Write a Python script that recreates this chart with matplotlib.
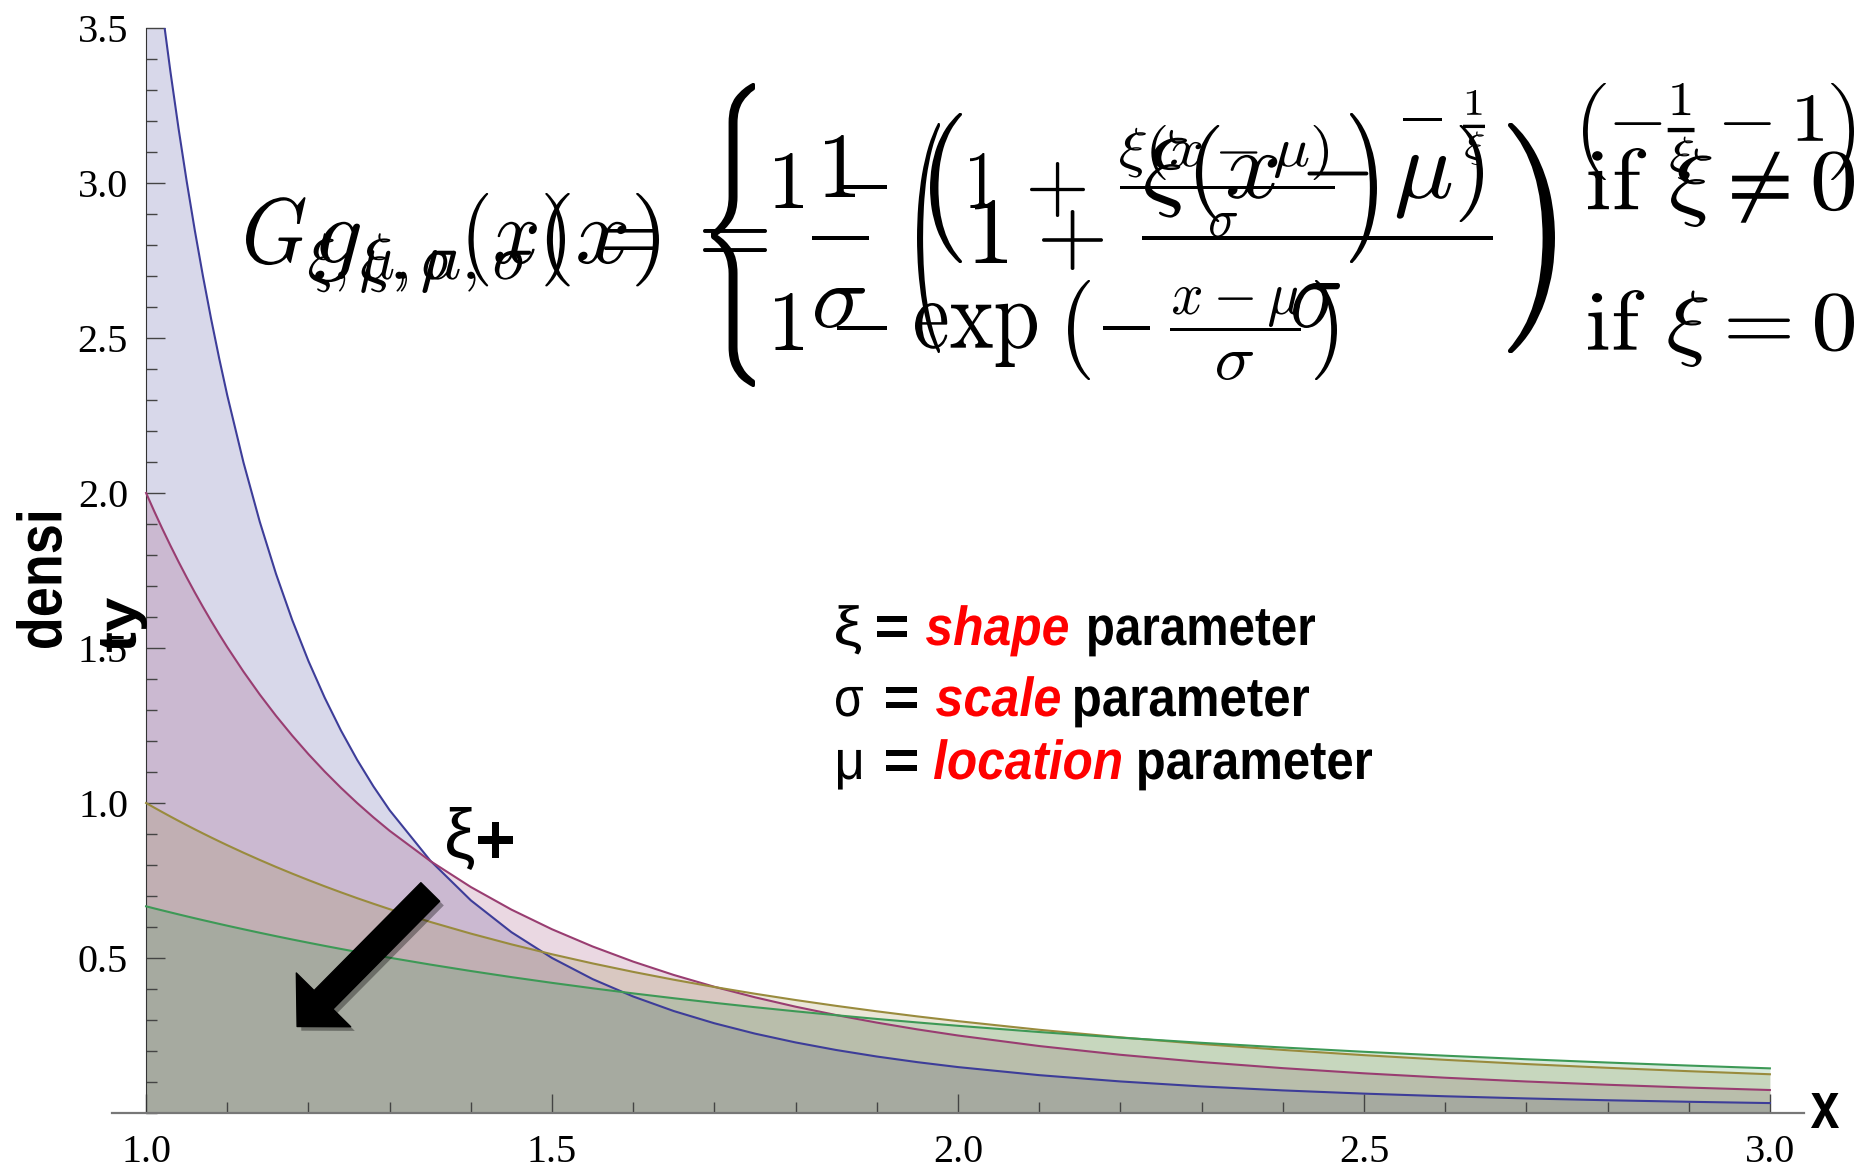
import matplotlib
matplotlib.use("Agg")
import matplotlib.pyplot as plt
import matplotlib.patheffects as pe
from matplotlib.ticker import FixedLocator, MultipleLocator, FormatStrFormatter
from matplotlib.textpath import TextPath
from matplotlib.font_manager import FontProperties
from matplotlib.patches import PathPatch, FancyArrowPatch, ArrowStyle, Rectangle
from matplotlib.transforms import Affine2D

plt.rcParams['font.family'] = ['Liberation Serif', 'DejaVu Serif']
plt.rcParams['mathtext.fontset'] = 'cm'

W, H = 1875, 1172

# values (generalized Pareto densities, four scales)
x = [1.00, 1.01, 1.02, 1.03, 1.04, 1.05, 1.06, 1.07, 1.08, 1.09, 1.10,
     1.12, 1.14, 1.16, 1.18, 1.20, 1.22, 1.24, 1.26, 1.28, 1.30,
     1.35, 1.40, 1.45, 1.50, 1.55, 1.60, 1.65, 1.70, 1.75, 1.80, 1.85, 1.90, 1.95, 2.00,
     2.10, 2.20, 2.30, 2.40, 2.50, 2.60, 2.70, 2.80, 2.90, 3.00]
dens_blue = [4.0000, 3.7693, 3.5560, 3.3585, 3.1753, 3.0053, 2.8471, 2.6999, 2.5626, 2.4345, 2.3148,
             2.0980, 1.9073, 1.7392, 1.5902, 1.4577, 1.3396, 1.2339, 1.1390, 1.0536, 0.9766,
             0.8142, 0.6859, 0.5832, 0.5000, 0.4319, 0.3757, 0.3288, 0.2894, 0.2560, 0.2276, 0.2032, 0.1822, 0.1640, 0.1481,
             0.1221, 0.1018, 0.0857, 0.0729, 0.0625, 0.0540, 0.0470, 0.0411, 0.0362, 0.0320]
dens_magenta = [2.0000, 1.9412, 1.8846, 1.8303, 1.7780, 1.7277, 1.6792, 1.6326, 1.5877, 1.5444, 1.5026,
                1.4236, 1.3499, 1.2813, 1.2173, 1.1574, 1.1014, 1.0490, 0.9998, 0.9537, 0.9103,
                0.8129, 0.7289, 0.6560, 0.5926, 0.5371, 0.4883, 0.4452, 0.4071, 0.3732, 0.3429, 0.3159, 0.2916, 0.2697, 0.2500,
                0.2160, 0.1878, 0.1644, 0.1447, 0.1280, 0.1138, 0.1016, 0.0911, 0.0820, 0.0741]
dens_olive = [1.0000, 0.9851, 0.9706, 0.9563, 0.9423, 0.9286, 0.9151, 0.9019, 0.8890, 0.8763, 0.8638,
              0.8396, 0.8163, 0.7938, 0.7722, 0.7513, 0.7312, 0.7118, 0.6930, 0.6750, 0.6575,
              0.6164, 0.5787, 0.5440, 0.5120, 0.4825, 0.4552, 0.4299, 0.4064, 0.3847, 0.3644, 0.3456, 0.3280, 0.3116, 0.2963,
              0.2685, 0.2441, 0.2226, 0.2035, 0.1866, 0.1715, 0.1579, 0.1458, 0.1349, 0.1250]
dens_green = [0.6667, 0.6600, 0.6535, 0.6471, 0.6407, 0.6344, 0.6282, 0.6221, 0.6161, 0.6101, 0.6042,
              0.5927, 0.5814, 0.5704, 0.5597, 0.5493, 0.5391, 0.5292, 0.5195, 0.5101, 0.5009,
              0.4788, 0.4580, 0.4383, 0.4198, 0.4023, 0.3858, 0.3702, 0.3554, 0.3413, 0.3280, 0.3154, 0.3034, 0.2921, 0.2813,
              0.2612, 0.2430, 0.2264, 0.2113, 0.1975, 0.1849, 0.1734, 0.1628, 0.1530, 0.1440]

x_major = [1.0, 1.5, 2.0, 2.5, 3.0]
y_major = [0.5, 1.0, 1.5, 2.0, 2.5, 3.0, 3.5]

series = [(dens_blue, (0.24, 0.24, 0.6)),
          (dens_magenta, (0.6, 0.24, 0.4428)),
          (dens_olive, (0.6, 0.547, 0.24)),
          (dens_green, (0.24, 0.6, 0.337))]

fig = plt.figure(figsize=(W / 100, H / 100), dpi=100)
ax = fig.add_axes([112 / W, 59 / H, 1692 / W, 1085 / H])

for ys, c in series:
    ax.fill_between(x, 0, ys, color=c, alpha=0.2, lw=0, zorder=1)
for ys, c in series:
    ax.plot(x, ys, color=c, lw=1.5, zorder=3)

ax.set_xlim(1 - 0.042, 3 + 0.042)
ax.set_ylim(0, 3.5)
ax.spines['left'].set_position(('data', 1.0))
ax.spines['right'].set_visible(False)
ax.spines['top'].set_visible(False)
ax.spines['left'].set_color('#333333')
ax.spines['bottom'].set_color('#777777')
ax.spines['bottom'].set_linewidth(1.6)

ax.xaxis.set_major_locator(FixedLocator(x_major))
ax.xaxis.set_minor_locator(MultipleLocator(0.1))
ax.yaxis.set_major_locator(FixedLocator(y_major))
ax.yaxis.set_minor_locator(MultipleLocator(0.1))
ax.xaxis.set_major_formatter(FormatStrFormatter('%.1f'))
ax.yaxis.set_major_formatter(FormatStrFormatter('%.1f'))
ax.tick_params(which='both', direction='in', color='#444444', width=1.0, labelsize=29)
ax.tick_params(which='major', length=13.7)
ax.tick_params(which='minor', length=7.9)
ax.tick_params(axis='y', pad=13)
ax.tick_params(axis='x', pad=15)

# the black arrow with its shadow
arrow = FancyArrowPatch((1.350, 0.713), (1.186, 0.279),
                        arrowstyle=ArrowStyle.Simple(head_length=27, head_width=55, tail_width=19),
                        mutation_scale=1, shrinkA=0, shrinkB=0, color='black', zorder=5,
                        path_effects=[pe.SimplePatchShadow(offset=(3, -3), shadow_rgbFace='black', alpha=0.35),
                                      pe.Normal()])
ax.add_patch(arrow)


def text_path(s, family, weight, style):
    prop = FontProperties(family=family, weight=weight, style=style)
    return TextPath((0, 0), s, size=100, prop=prop)


def fit(s, box, color='black', family='Liberation Sans', weight='bold', style='normal', rot=0):
    # box = left, top, right, bottom in picture pixels (origin top-left)
    p = text_path(s, family, weight, style)
    if rot:
        p = Affine2D().rotate_deg(rot).transform_path(p)
    e = p.get_extents()
    l, t, r, b = box
    tr = (Affine2D().translate(-e.x0, -e.y0)
          .scale((r - l) / e.width, (b - t) / e.height)
          .translate(l, H - b).scale(1 / W, 1 / H))
    fig.add_artist(PathPatch(tr.transform_path(p), fc=color, ec='none', lw=0,
                             transform=fig.transFigure))


def word(s, left, right, base, em, color='black', weight='bold', style='normal'):
    p = text_path(s, 'Liberation Sans', weight, style)
    e = p.get_extents()
    tr = (Affine2D().translate(-e.x0, 0)
          .scale((right - left) / e.width, em / 100)
          .translate(left, H - base).scale(1 / W, 1 / H))
    fig.add_artist(PathPatch(tr.transform_path(p), fc=color, ec='none', lw=0,
                             transform=fig.transFigure))


def bar(left, right, y, t=3.5):
    fig.add_artist(Rectangle((left / W, (H - y - t / 2) / H), (right - left) / W, t / H,
                             fc='black', ec='none', transform=fig.transFigure))


# axis labels, drawn the broken way they appear
fit('densi', (16, 513, 62, 648), rot=90)
fit('ty', (100, 598, 147, 652), rot=90)
fit('x', (1811, 1093, 1839, 1128))

# xi+ beside the arrow
fit('\u03be', (447, 807, 474, 870), weight='normal')
fit('+', (478, 822, 513, 858))

# parameter legend
red = '#ff0000'
em = 55
for sym, name, base, boxes in [
        ('\u03be', 'shape', 645, [(836, 861), (877, 907), (926, 1068), (1089, 1315)]),
        ('\u03c3', 'scale', 716, [(836, 863), (886, 917), (936, 1060), (1075, 1309)]),
        ('\u03bc', 'location', 779, [(838, 861), (886, 917), (934, 1121), (1139, 1372)])]:
    word(sym, *boxes[0], base, em, weight='normal')
    word('=', *boxes[1], base, em)
    word(name, *boxes[2], base, em, color=red, style='italic')
    word('parameter', *boxes[3], base, em)

cm = dict(family='DejaVu Serif', weight='normal')

# the two overlapping formulas: the CDF G ...
fit(r'$G_{\xi,\mu,\sigma}(x)$', (246, 193, 565, 293), **cm)
fit(r'$=$', (604, 229, 654, 250), **cm)
fit(r'$\{$', (711, 83, 755, 387), **cm)
# first case
fit(r'$1$', (775, 153, 803, 208), **cm)
bar(837, 887, 187)
fit(r'$($', (930, 113, 962, 263), **cm)
fit(r'$1$', (970, 153, 993, 208), **cm)
fit(r'$+$', (1030, 162, 1085, 217), **cm)
fit(r'$\xi(x-\mu)$', (1120, 125, 1328, 180), **cm)
bar(1120, 1335, 187, 3)
fit(r'$\sigma$', (1210, 213, 1237, 237), **cm)
fit(r'$)$', (1350, 113, 1377, 263), **cm)
bar(1403, 1442, 119, 3)
fit(r'$\frac{1}{\xi}$', (1463, 90, 1485, 165), **cm)
fit(r'$\mathrm{if}\ \xi\neq0$', (1588, 148, 1854, 227), **cm)
# second case
fit(r'$1$', (775, 293, 803, 350), **cm)
bar(837, 887, 328)
fit(r'$\exp$', (915, 303, 1037, 367), **cm)
fit(r'$($', (1068, 280, 1090, 380), **cm)
bar(1103, 1150, 328)
fit(r'$x-\mu$', (1173, 287, 1300, 327), **cm)
bar(1170, 1301, 329, 3)
fit(r'$\sigma$', (1217, 352, 1253, 380), **cm)
fit(r'$)$', (1315, 280, 1337, 380), **cm)
fit(r'$\mathrm{if}\ \xi=0$', (1588, 290, 1854, 367), **cm)

# ... and the density g, drawn on top of it
fit(r'$g_{\xi,\mu,\sigma}(x)$', (315, 193, 659, 293), **cm)
fit(r'$=$', (703, 229, 767, 252), **cm)
fit(r'$1$', (825, 135, 855, 197), **cm)
bar(812, 869, 238)
fit(r'$\sigma$', (815, 288, 865, 328), **cm)
fit(r'$($', (917, 123, 940, 353), **cm)
fit(r'$1$', (975, 200, 1007, 263), **cm)
fit(r'$+$', (1042, 210, 1103, 270), **cm)
fit(r'$\xi(x-\mu)$', (1145, 125, 1483, 222), **cm)
bar(1142, 1493, 238)
fit(r'$\sigma$', (1293, 283, 1340, 328), **cm)
fit(r'$)$', (1508, 123, 1555, 353), **cm)
fit(r'$\left(-\frac{1}{\xi}-1\right)$', (1583, 83, 1854, 180), **cm)

fig.savefig('out.png', dpi=100)
